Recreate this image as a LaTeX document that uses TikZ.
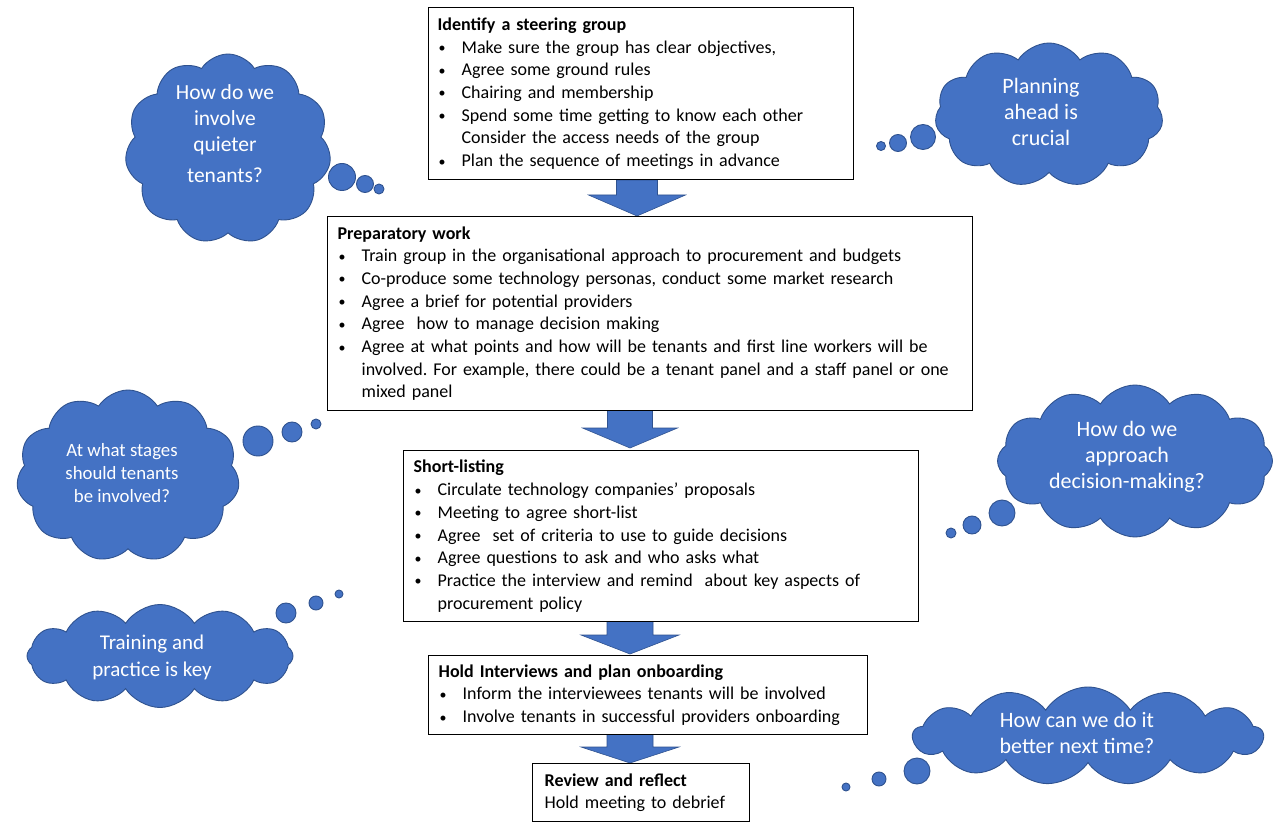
\documentclass[tikz,border=0pt]{standalone}
\usepackage{fontspec}
\setmainfont{Carlito}
\usetikzlibrary{shapes.symbols}
\frenchspacing
\definecolor{cloudblue}{HTML}{4472C4}
\definecolor{cloudedge}{HTML}{2F528F}
\newcommand{\bul}{\makebox[24pt][l]{\hspace{1pt}\raisebox{0.5pt}{\fontsize{14}{14}\selectfont\textbullet}}}
\newcommand{\cnt}{\hspace*{24pt}}
\newcommand{\blockarrow}[6]{%
  \filldraw[fill=cloudblue,draw=cloudedge,line width=0.6pt]
  (#1-#5,#2) -- (#1+#5,#2) -- (#1+#5,#3) -- (#1+#6,#3) -- (#1,#4) -- (#1-#6,#3) -- (#1-#5,#3) -- cycle;}
\tikzset{
  thought/.style={cloud, cloud puffs=11, cloud puff arc=115, cloud ignores aspect,
    draw=cloudedge, fill=cloudblue, line width=0.9pt, inner sep=0pt},
  thoughttext/.style={text=white, align=center, inner sep=0pt, font=\fontsize{22}{26}\selectfont},
  bubble/.style={circle, draw=cloudedge, fill=cloudblue, line width=0.9pt, inner sep=0pt},
  stepbox/.style={draw=black, line width=1.3pt, fill=white, inner ysep=0pt, inner xsep=9pt,
    align=left, anchor=north west, font=\fontsize{18}{22.7}\selectfont}
}
\begin{document}
\begin{tikzpicture}[x=1pt,y=-1pt]
\useasboundingbox (0,0) rectangle (1286,834);
\fill[white] (0,0) rectangle (1286,834);

% block arrows
\blockarrow{637}{180}{195}{216}{20.5}{48.5}
\blockarrow{630}{410}{428}{448}{22.5}{47.5}
\blockarrow{630}{619}{635}{654}{23}{49}
\blockarrow{630}{733}{747}{763}{23}{49}

% boxes
\node[stepbox, minimum width=425, minimum height=172, text width=407] (b1) at (428,7) {%
\textbf{Identify a steering group}\\
\bul Make sure the group has clear objectives,\\
\bul Agree some ground rules\\
\bul Chairing and membership\\
\bul Spend some time getting to know each other\\
\cnt Consider the access needs of the group\\
\bul Plan the sequence of meetings in advance};

\node[stepbox, inner xsep=10pt, minimum width=645, minimum height=194, text width=625] (b2) at (327,216) {%
\textbf{Preparatory work}\\
\bul Train group in the organisational approach to procurement and budgets\\
\bul Co-produce some technology personas, conduct some market research\\
\bul Agree a brief for potential providers\\
\bul Agree\ \ how to manage decision making\\
\bul Agree at what points and how will be tenants and first line workers will be\\
\cnt involved. For example, there could be a tenant panel and a staff panel or one\\
\cnt mixed panel};

\node[stepbox, inner xsep=10pt, minimum width=515, minimum height=171, text width=495] (b3) at (403,450) {%
\textbf{Short-listing}\\
\bul Circulate technology companies' proposals\\
\bul Meeting to agree short-list\\
\bul Agree\ \ set of criteria to use to guide decisions\\
\bul Agree questions to ask and who asks what\\
\bul Practice the interview and remind\ \ about key aspects of\\
\cnt procurement policy};

\node[stepbox, inner xsep=10pt, minimum width=439, minimum height=79, text width=419] (b4) at (428,655) {%
\textbf{Hold Interviews and plan onboarding}\\
\bul Inform the interviewees tenants will be involved\\
\bul Involve tenants in successful providers onboarding};

\node[stepbox, inner xsep=12pt, minimum width=217, minimum height=58, text width=193] (b5) at (532,763) {%
\textbf{Review and reflect}\\
Hold meeting to debrief};

% clouds
\node[thought, minimum width=206, minimum height=190] (c1) at (228,149) {};
\node[thoughttext, font=\fontsize{21.5}{26}\selectfont] (c1t) at (225,134) {How do we\\involve\\quieter\\[5pt]tenants?};
\node[bubble, minimum size=27] (c1a) at (342,177) {};
\node[bubble, minimum size=17] (c1b) at (365,184) {};
\node[bubble, minimum size=10] (c1c) at (379,189) {};

\node[thought, minimum width=228, minimum height=144] (c2) at (1049,115) {};
\node[thoughttext] (c2t) at (1041,112) {Planning\\ahead is\\crucial};
\node[bubble, minimum size=25] (c2a) at (923,137) {};
\node[bubble, minimum size=17] (c2b) at (898,143) {};
\node[bubble, minimum size=9] (c2c) at (881,146) {};

\node[thought, minimum width=223, minimum height=172] (c3) at (128,476) {};
\node[thoughttext, font=\fontsize{18.8}{22.7}\selectfont] (c3t) at (122,473) {At what stages\\should tenants\\be involved?};
\node[bubble, minimum size=30] (c3a) at (258,441) {};
\node[bubble, minimum size=20] (c3b) at (292,432) {};
\node[bubble, minimum size=10] (c3c) at (316,424) {};

\node[thought, cloud puffs=12, minimum width=275, minimum height=152] (c4) at (1135,461) {};
\node[thoughttext] (c4t) at (1127,457) {How do we\\approach\\decision-making?};
\node[bubble, minimum size=26] (c4a) at (1002,513) {};
\node[bubble, minimum size=18] (c4b) at (972,525) {};
\node[bubble, minimum size=10] (c4c) at (951,533) {};

\node[thought, cloud puffs=12, minimum width=266, minimum height=103] (c5) at (160,656) {};
\node[thoughttext, font=\fontsize{21}{27}\selectfont] (c5t) at (152,657) {Training and\\practice is key};
\node[bubble, minimum size=20] (c5a) at (286,613) {};
\node[bubble, minimum size=14] (c5b) at (316,603) {};
\node[bubble, minimum size=8] (c5c) at (339,594) {};

\node[thought, cloud puffs=13, minimum width=350, minimum height=98] (c6) at (1088,736) {};
\node[thoughttext] (c6t) at (1077,733) {How can we do it\\better next time?};
\node[bubble, minimum size=26] (c6a) at (917,771) {};
\node[bubble, minimum size=14] (c6b) at (879,779) {};
\node[bubble, minimum size=8] (c6c) at (846,787) {};
\end{tikzpicture}
\end{document}
